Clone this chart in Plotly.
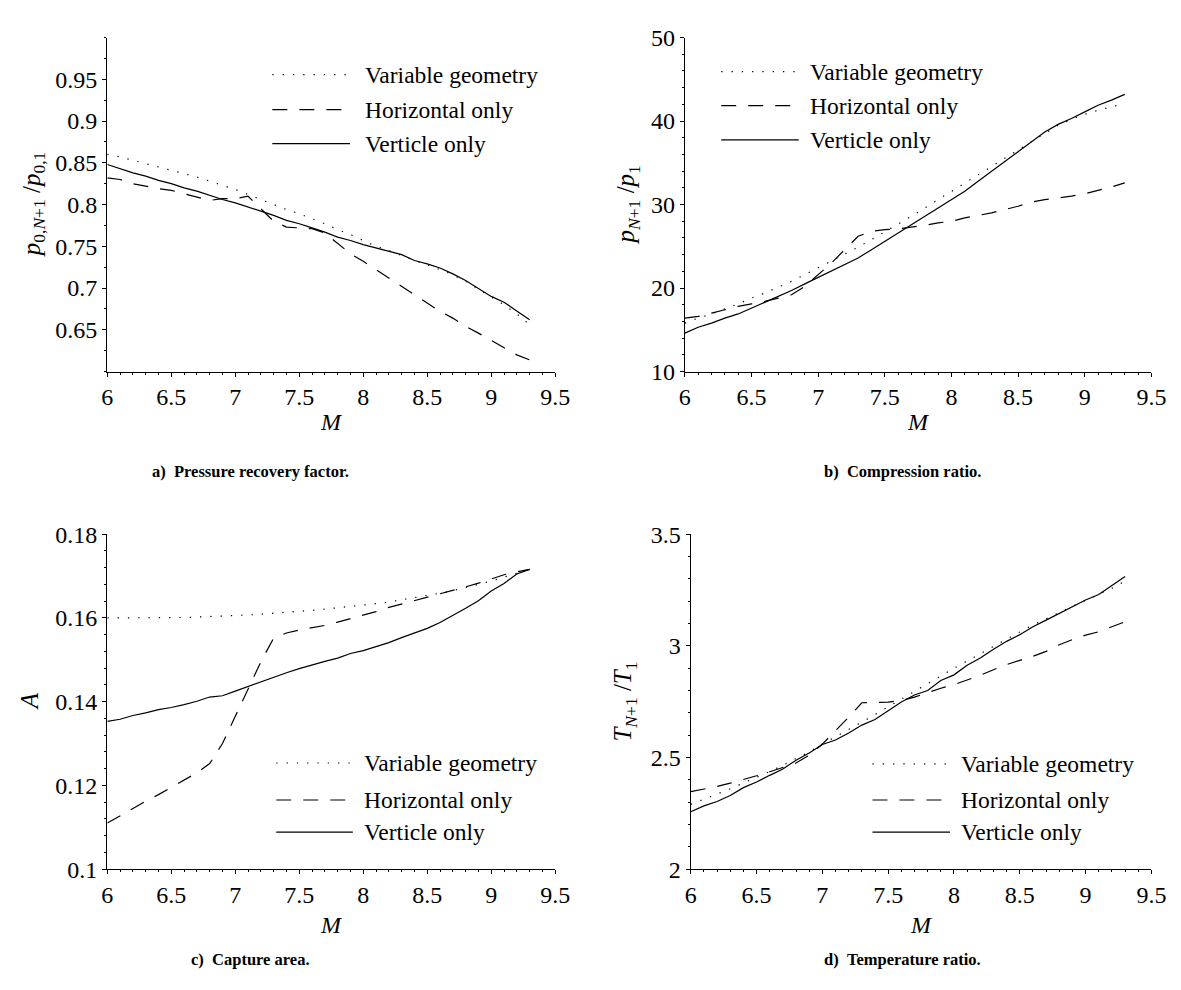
import plotly.graph_objects as go

# ---------------- data ----------------
mach = [6.0, 6.1, 6.2, 6.3, 6.4, 6.5, 6.6, 6.7, 6.8, 6.9, 7.0, 7.1, 7.2, 7.3, 7.4, 7.5, 7.6,
        7.7, 7.8, 7.9, 8.0, 8.1, 8.2, 8.3, 8.4, 8.5, 8.6, 8.7, 8.8, 8.9, 9.0, 9.1, 9.2, 9.3]

# a) pressure recovery factor
pr_variable = [0.860, 0.857, 0.853, 0.849, 0.845, 0.841, 0.837, 0.833, 0.828, 0.823, 0.818, 0.812,
               0.806, 0.800, 0.794, 0.789, 0.783, 0.777, 0.770, 0.764, 0.757, 0.750, 0.745, 0.739,
               0.733, 0.728, 0.722, 0.716, 0.708, 0.699, 0.689, 0.680, 0.669, 0.656]
pr_horizontal = [0.832, 0.830, 0.825, 0.822, 0.819, 0.817, 0.813, 0.809, 0.805, 0.807, 0.807, 0.810,
                 0.795, 0.780, 0.773, 0.772, 0.771, 0.766, 0.753, 0.741, 0.732, 0.722, 0.711, 0.702,
                 0.691, 0.681, 0.672, 0.664, 0.654, 0.646, 0.637, 0.628, 0.620, 0.614]
pr_vertical = [0.848, 0.843, 0.838, 0.834, 0.829, 0.825, 0.820, 0.816, 0.811, 0.806, 0.802, 0.797,
               0.792, 0.787, 0.781, 0.777, 0.772, 0.767, 0.761, 0.757, 0.752, 0.748, 0.744, 0.740,
               0.733, 0.729, 0.724, 0.717, 0.709, 0.700, 0.690, 0.683, 0.673, 0.662]

# b) compression ratio
cr_variable = [15.8, 16.4, 16.9, 17.5, 18.1, 18.8, 19.4, 20.1, 20.8, 21.6, 22.4, 23.2, 24.0, 24.9,
               25.8, 26.7, 27.6, 28.6, 29.6, 30.6, 31.6, 32.6, 33.6, 34.6, 35.6, 36.6, 37.6, 38.6,
               39.5, 40.2, 40.8, 41.3, 41.7, 42.1]
cr_horizontal = [16.4, 16.6, 17.0, 17.4, 17.8, 18.1, 18.4, 18.8, 19.2, 20.2, 21.6, 23.0, 24.6, 26.2,
                 26.8, 27.0, 27.1, 27.3, 27.5, 27.8, 28.0, 28.4, 28.7, 29.0, 29.4, 29.8, 30.3, 30.6,
                 30.8, 31.0, 31.3, 31.7, 32.1, 32.6]
cr_vertical = [14.6, 15.3, 15.8, 16.4, 16.9, 17.6, 18.3, 19.0, 19.7, 20.5, 21.3, 22.0, 22.8, 23.6,
               24.6, 25.6, 26.6, 27.6, 28.5, 29.5, 30.6, 31.6, 32.8, 34.0, 35.2, 36.4, 37.6, 38.7,
               39.6, 40.3, 41.1, 41.9, 42.5, 43.2]

# c) capture area
ca_variable = [0.1600, 0.1600, 0.1600, 0.1600, 0.1600, 0.1600, 0.1601, 0.1602, 0.1603, 0.1604,
               0.1605, 0.1607, 0.1609, 0.1611, 0.1613, 0.1615, 0.1618, 0.1621, 0.1624, 0.1627,
               0.1631, 0.1634, 0.1638, 0.1643, 0.1648, 0.1653, 0.1659, 0.1665, 0.1672, 0.1680,
               0.1688, 0.1697, 0.1706, 0.1716]
ca_horizontal = [0.1110, 0.1128, 0.1146, 0.1162, 0.1178, 0.1195, 0.1212, 0.1230, 0.1252, 0.1300,
                 0.1365, 0.1430, 0.1495, 0.1552, 0.1564, 0.1571, 0.1576, 0.1582, 0.1590, 0.1598,
                 0.1607, 0.1615, 0.1625, 0.1633, 0.1641, 0.1649, 0.1657, 0.1665, 0.1674, 0.1683,
                 0.1693, 0.1703, 0.1710, 0.1716]
ca_vertical = [0.1353, 0.1358, 0.1367, 0.1373, 0.1381, 0.1386, 0.1393, 0.1401, 0.1411, 0.1414,
               0.1425, 0.1436, 0.1447, 0.1459, 0.1469, 0.1479, 0.1488, 0.1496, 0.1504, 0.1515,
               0.1522, 0.1532, 0.1541, 0.1553, 0.1564, 0.1575, 0.1589, 0.1605, 0.1623, 0.1641,
               0.1664, 0.1682, 0.1705, 0.1716]

# d) temperature ratio
tr_variable = [2.290, 2.312, 2.336, 2.360, 2.385, 2.410, 2.437, 2.465, 2.494, 2.525, 2.560, 2.592,
               2.625, 2.658, 2.692, 2.727, 2.762, 2.797, 2.832, 2.866, 2.900, 2.932, 2.965, 2.998,
               3.030, 3.062, 3.093, 3.122, 3.150, 3.177, 3.204, 3.230, 3.258, 3.290]
tr_horizontal = [2.347, 2.357, 2.370, 2.385, 2.400, 2.418, 2.436, 2.455, 2.475, 2.510, 2.560, 2.620,
                 2.680, 2.745, 2.746, 2.748, 2.755, 2.770, 2.790, 2.810, 2.826, 2.846, 2.868, 2.893,
                 2.916, 2.935, 2.953, 2.975, 3.005, 3.028, 3.048, 3.063, 3.085, 3.108]
tr_vertical = [2.257, 2.283, 2.303, 2.330, 2.365, 2.390, 2.420, 2.448, 2.488, 2.520, 2.558, 2.578,
               2.610, 2.645, 2.670, 2.710, 2.748, 2.780, 2.800, 2.845, 2.870, 2.913, 2.945, 2.985,
               3.020, 3.050, 3.085, 3.115, 3.145, 3.175, 3.205, 3.230, 3.270, 3.310]

series_names = ["Variable geometry", "Horizontal only", "Verticle only"]
x_ticks = [6, 6.5, 7, 7.5, 8, 8.5, 9, 9.5]
x_ticktext = ["6", "6.5", "7", "7.5", "8", "8.5", "9", "9.5"]

a_ticks = [0.65, 0.7, 0.75, 0.8, 0.85, 0.9, 0.95]
a_ticktext = ["0.65", "0.7", "0.75", "0.8", "0.85", "0.9", "0.95"]
b_ticks = [10, 20, 30, 40, 50]
b_ticktext = ["10", "20", "30", "40", "50"]
c_ticks = [0.1, 0.12, 0.14, 0.16, 0.18]
c_ticktext = ["0.1", "0.12", "0.14", "0.16", "0.18"]
d_ticks = [2, 2.5, 3, 3.5]
d_ticktext = ["2", "2.5", "3", "3.5"]

captions = ["a)\u2002Pressure recovery factor.", "b)\u2002Compression ratio.",
            "c)\u2002Capture area.", "d)\u2002Temperature ratio."]

# ---------------- styling / layout ----------------
W, H = 1181, 990
FONT = "Liberation Serif"
DOT = "1.3px,9px"
DASH = "15px,12px"
styles = [DOT, DASH, "solid"]
LW = 1.2


def px_x(p):
    return p / W


def px_y(p):
    return 1 - p / H


panels = [
    dict(xd=(95, 551), yd=(17, 360), data=[pr_variable, pr_horizontal, pr_vertical],
         yr=[0.6, 1.0], yt=a_ticks, ytt=a_ticktext, minor=0.025,
         title="<i>p</i><sub>0,<i>N</i>+1</sub> /<i>p</i><sub>0,1</sub>", title_x=20,
         leg=(263, 342, 355, [55, 91, 126]), cap_x=241, cap_y=463, m_y=412),
    dict(xd=(683, 1158), yd=(17, 360), data=[cr_variable, cr_horizontal, cr_vertical],
         yr=[10, 50], yt=b_ticks, ytt=b_ticktext, minor=2,
         title="<i>p</i><sub><i>N</i>+1</sub> /<i>p</i><sub>1</sub>", title_x=625,
         leg=(720, 799, 808, [52, 87, 122]), cap_x=905, cap_y=463, m_y=412),
    dict(xd=(95, 551), yd=(527, 871), data=[ca_variable, ca_horizontal, ca_vertical],
         yr=[0.1, 0.18], yt=c_ticks, ytt=c_ticktext, minor=0.004,
         title="<i>A</i>", title_x=16,
         leg=(267, 345, 354, [762, 800, 833]), cap_x=241, cap_y=964, m_y=928),
    dict(xd=(689, 1158), yd=(527, 871), data=[tr_variable, tr_horizontal, tr_vertical],
         yr=[2, 3.5], yt=d_ticks, ytt=d_ticktext, minor=0.1,
         title="<i>T</i><sub><i>N</i>+1</sub> /<i>T</i><sub>1</sub>", title_x=622,
         leg=(874, 953, 962, [763, 800, 833]), cap_x=905, cap_y=964, m_y=928),
]

fig = go.Figure()
shapes = []
annotations = []

for i, p in enumerate(panels):
    n = "" if i == 0 else str(i + 1)
    xa, ya = "x" + n, "y" + n
    for k, vals in enumerate(p["data"]):
        fig.add_trace(go.Scatter(
            x=mach, y=vals, mode="lines", name=series_names[k], showlegend=False,
            line=dict(color="black", width=LW, dash=styles[k]),
            xaxis=xa, yaxis=ya, hoverinfo="x+y"))

    axis_common = dict(showline=True, linecolor="black", linewidth=1.3, showgrid=False,
                       zeroline=False, ticks="outside", ticklen=4, tickwidth=1,
                       tickcolor="black", mirror=False,
                       tickfont=dict(family=FONT, size=24, color="black"))
    fig.layout["xaxis" + n] = dict(
        axis_common, domain=[px_x(p["xd"][0]), px_x(p["xd"][1])], range=[6, 9.5],
        tickvals=x_ticks, ticktext=x_ticktext, anchor=ya,
        minor=dict(ticks="outside", dtick=0.1, tick0=6, ticklen=2, tickcolor="black"))
    fig.layout["yaxis" + n] = dict(
        axis_common, domain=[px_y(p["yd"][1]), px_y(p["yd"][0])], range=p["yr"],
        tickvals=p["yt"], ticktext=p["ytt"], anchor=xa,
        minor=dict(ticks="outside", dtick=p["minor"], tick0=p["yr"][0], ticklen=2,
                   tickcolor="black"))

    # y-axis title
    annotations.append(dict(text=p["title"], xref="paper", yref="paper",
                            x=px_x(p["title_x"]), y=px_y((p["yd"][0] + p["yd"][1]) / 2),
                            textangle=-90, showarrow=False, xanchor="center", yanchor="middle",
                            font=dict(family=FONT, size=25, color="black")))
    # x-axis title
    annotations.append(dict(text="<i>M</i>", xref="paper", yref="paper",
                            x=px_x((p["xd"][0] + p["xd"][1]) / 2), y=px_y(p["m_y"]),
                            showarrow=False, xanchor="center", yanchor="middle",
                            font=dict(family=FONT, size=24, color="black")))
    # caption
    annotations.append(dict(text="<b>" + captions[i] + "</b>", xref="paper", yref="paper",
                            x=px_x(p["cap_x"]), y=px_y(p["cap_y"]), showarrow=False,
                            xanchor="center", yanchor="middle",
                            font=dict(family=FONT, size=16.5, color="black")))
    # legend (custom, paper coordinates)
    lx0, lx1, tx, rows = p["leg"]
    for k in range(3):
        shapes.append(dict(type="line", xref="paper", yref="paper",
                           x0=px_x(lx0), x1=px_x(lx1), y0=px_y(rows[k]), y1=px_y(rows[k]),
                           line=dict(color="black", width=LW, dash=styles[k])))
        annotations.append(dict(text=series_names[k], xref="paper", yref="paper",
                                x=px_x(tx), y=px_y(rows[k]), showarrow=False,
                                xanchor="left", yanchor="middle",
                                font=dict(family=FONT, size=23.5, color="black")))

fig.update_layout(width=W, height=H, margin=dict(l=0, r=0, t=0, b=0),
                  paper_bgcolor="white", plot_bgcolor="white",
                  font=dict(family=FONT, color="black"),
                  shapes=shapes, annotations=annotations, showlegend=False)

fig.write_html("out.html")
